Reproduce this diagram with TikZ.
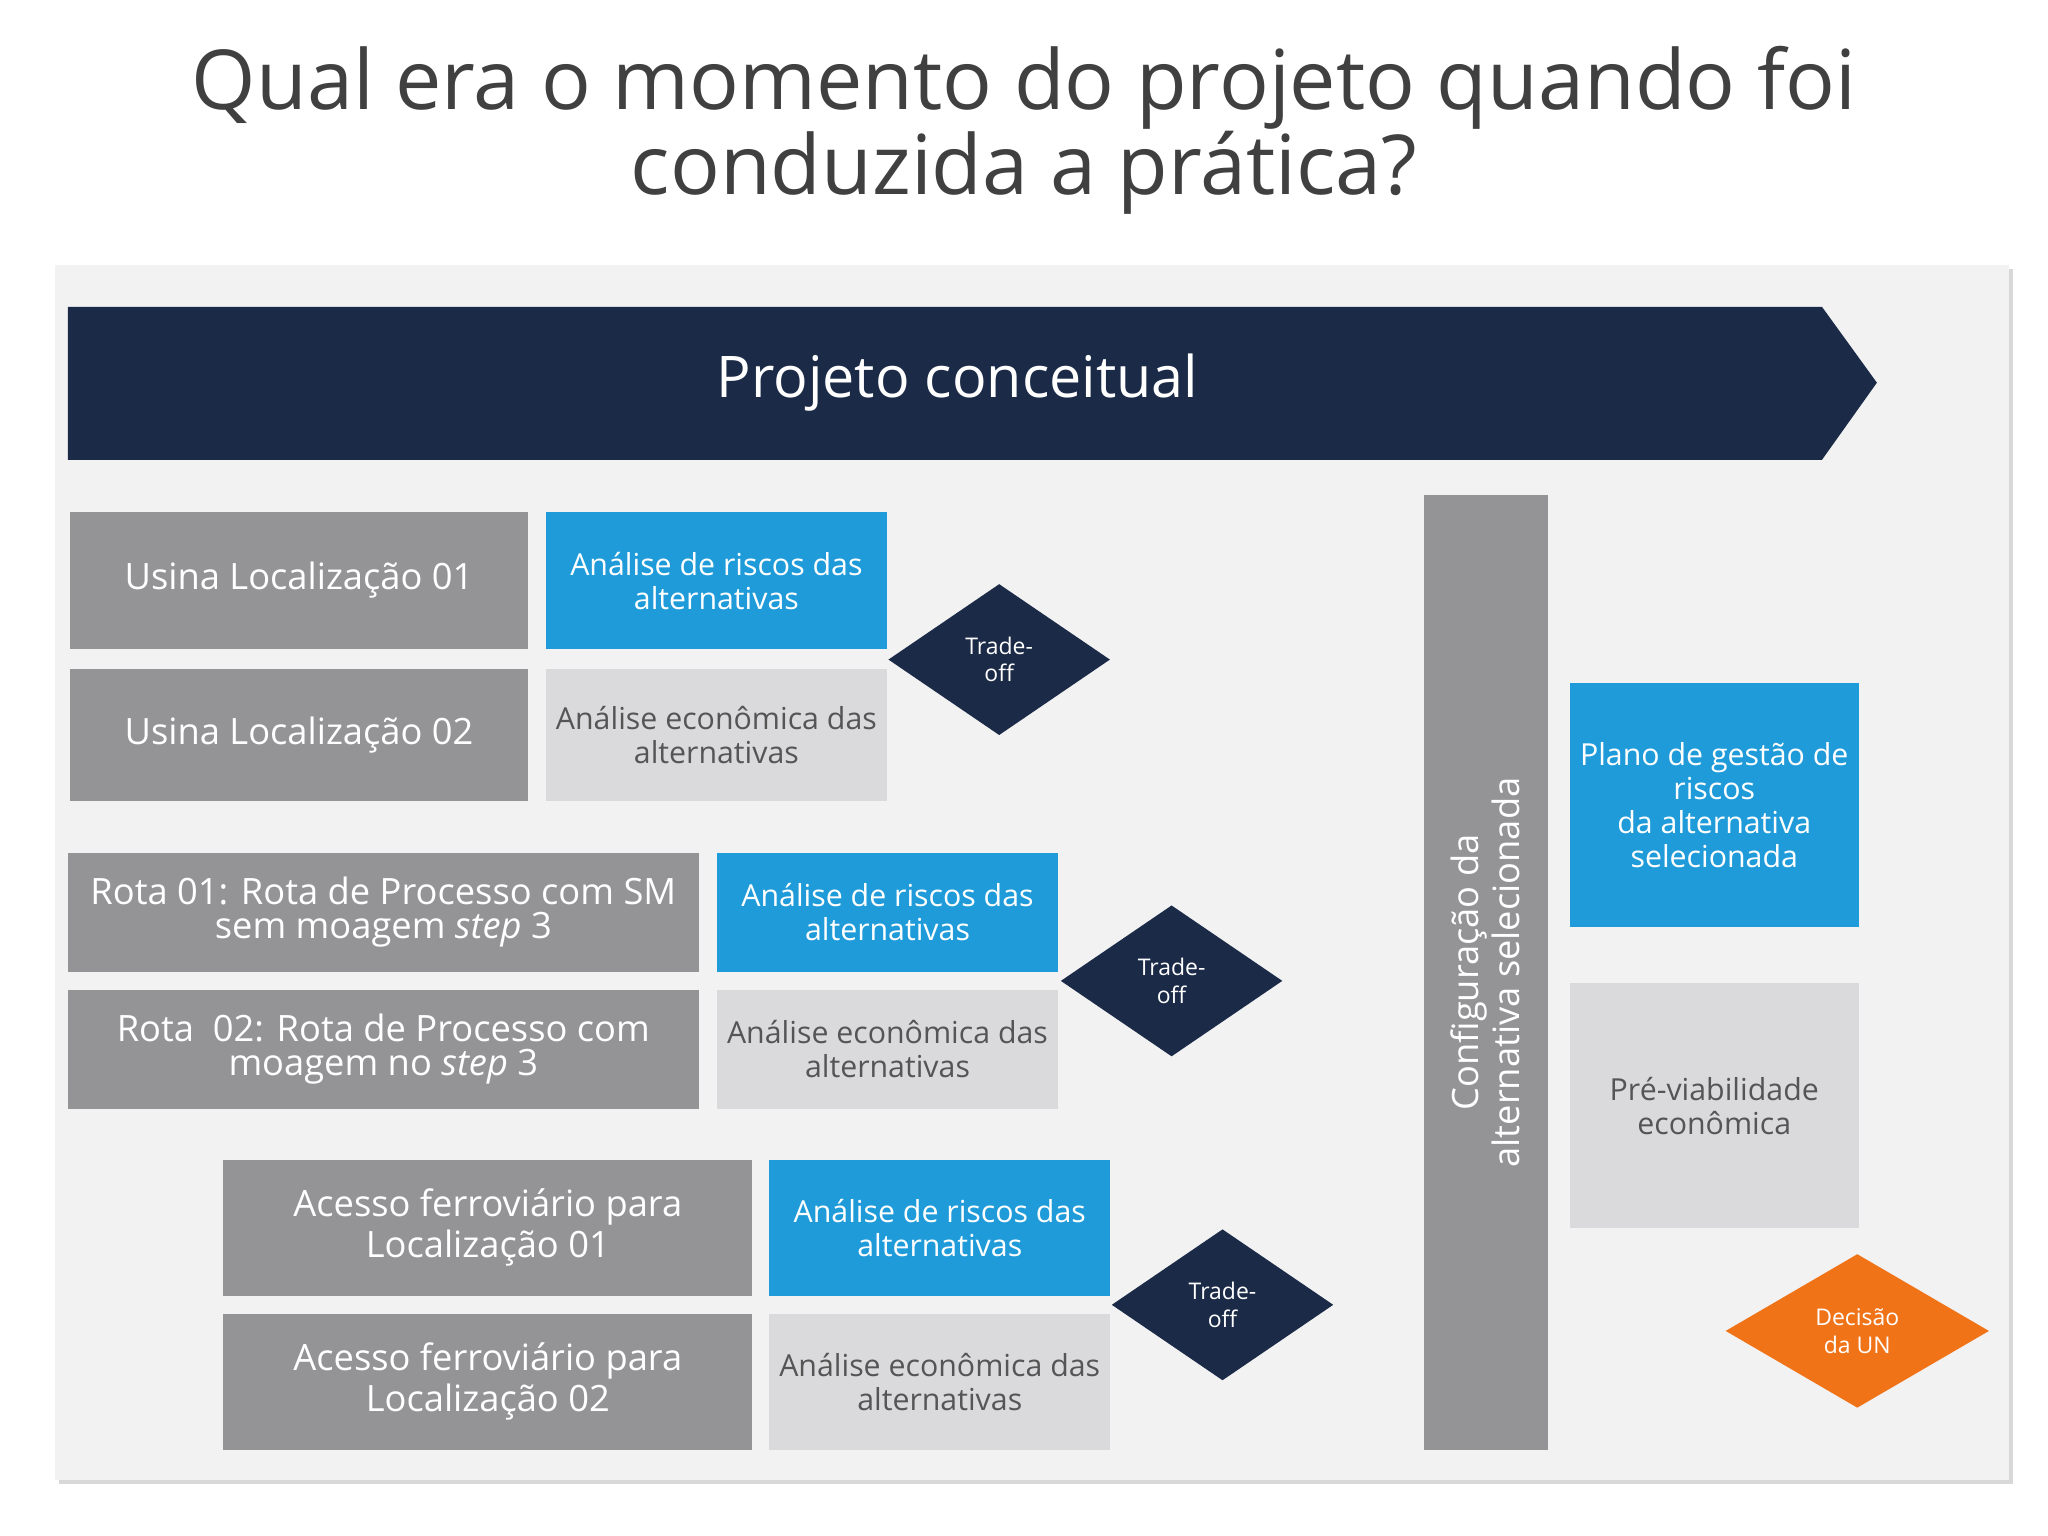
\documentclass[tikz,border=0pt]{standalone}
\usepackage{fontspec}
\setmainfont{Open Sans}
\usetikzlibrary{shapes.geometric,shadows}
\definecolor{navy}{HTML}{1B2A47}
\definecolor{gbox}{HTML}{949396}
\definecolor{bbox}{HTML}{1F9BDA}
\definecolor{lbox}{HTML}{DADADC}
\definecolor{panel}{HTML}{F2F2F3}
\definecolor{orng}{HTML}{F07318}
\definecolor{ttl}{HTML}{404040}
\definecolor{dtxt}{HTML}{555555}
\begin{document}
\begin{tikzpicture}[x=0.01cm,y=-0.01cm,
  bx/.style={inner sep=0pt,align=center,font=\fontsize{7.6}{7.6}\selectfont},
  grey/.style={bx,fill=gbox,text=white,font=\fontsize{7.9}{7.4}\selectfont},
  blue/.style={bx,fill=bbox,text=white,font=\fontsize{6.6}{7.4}\selectfont},
  light/.style={bx,fill=lbox,text=dtxt,font=\fontsize{6.6}{7.4}\selectfont},
  dia/.style={diamond,inner sep=0pt,fill=navy,text=white,align=center,font=\fontsize{5}{6}\selectfont,minimum width=1.7cm,minimum height=1.16cm,aspect=1.47}]
\useasboundingbox (0,0) rectangle (1568,1176);
\fill[white] (0,0) rectangle (1568,1176);
\node[text=ttl,align=center,font=\fontsize{18}{18.5}\selectfont] (title) at (784,100) {Qual era o momento do projeto quando foi\\conduzida a prática?};
\fill[panel,drop shadow={shadow xshift=0.03cm,shadow yshift=-0.03cm,opacity=0.3}] (42,203) rectangle (1538,1133);
\fill[navy] (52,235) -- (1395,235) -- (1437,293) -- (1395,352) -- (52,352) -- cycle;
\node[text=white,font=\fontsize{12.5}{13}\selectfont] (banner) at (733,293) {Projeto conceitual};
% group 1
\node[grey,minimum width=3.5cm,minimum height=1.05cm] (u1) at (229,444.5) {Usina Localização 01};
\node[grey,minimum width=3.5cm,minimum height=1.01cm] (u2) at (229,562.5) {Usina Localização 02};
\node[blue,minimum width=2.61cm,minimum height=1.05cm] (r1) at (548.5,444.5) {Análise de riscos das\\alternativas};
\node[light,minimum width=2.61cm,minimum height=1.01cm] (e1) at (548.5,562.5) {Análise econômica das\\alternativas};
\node[dia] (d1) at (765,505) {Trade-\\off};
% group 2
\node[grey,minimum width=4.83cm,minimum height=0.91cm] (ro1) at (293.5,698.5) {Rota 01: Rota de Processo com SM\\sem moagem \textit{step} 3};
\node[grey,minimum width=4.83cm,minimum height=0.91cm] (ro2) at (293.5,803.5) {Rota\ \ 02: Rota de Processo com\\moagem no \textit{step} 3};
\node[blue,minimum width=2.61cm,minimum height=0.91cm] (r2) at (679.5,698.5) {Análise de riscos das\\alternativas};
\node[light,minimum width=2.61cm,minimum height=0.91cm] (e2) at (679.5,803.5) {Análise econômica das\\alternativas};
\node[dia] (d2) at (897,751) {Trade-\\off};
% group 3
\node[grey,minimum width=4.05cm,minimum height=1.04cm] (a1) at (373.5,940) {Acesso ferroviário para\\Localização 01};
\node[grey,minimum width=4.05cm,minimum height=1.04cm] (a2) at (373.5,1058) {Acesso ferroviário para\\Localização 02};
\node[blue,minimum width=2.61cm,minimum height=1.04cm] (r3) at (719.5,940) {Análise de riscos das\\alternativas};
\node[light,minimum width=2.61cm,minimum height=1.04cm] (e3) at (719.5,1058) {Análise econômica das\\alternativas};
\node[dia] (d3) at (936,999) {Trade-\\off};
% right side
\node[grey,minimum width=7.31cm,minimum height=0.95cm,rotate=90,font=\fontsize{7.9}{7.6}\selectfont] (cfg) at (1137.5,744.5) {Configuração da\\alternativa selecionada};
\node[blue,minimum width=2.21cm,minimum height=1.87cm] (plano) at (1312.5,616.5) {Plano de gestão de\\riscos\\da alternativa\\selecionada};
\node[light,minimum width=2.21cm,minimum height=1.87cm] (pre) at (1312.5,846.5) {Pré-viabilidade\\econômica};
\node[dia,fill=orng,minimum width=2.02cm,minimum height=1.18cm,aspect=1.71] (dec) at (1422,1019) {Decisão\\da UN};
\end{tikzpicture}
\end{document}
